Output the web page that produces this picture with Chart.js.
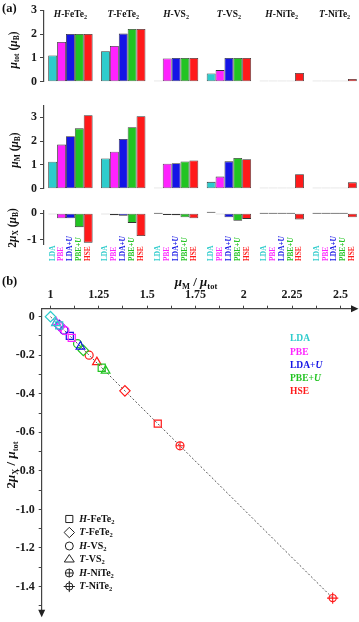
<!DOCTYPE html>
<html>
<head>
<meta charset="utf-8">
<script src="https://cdn.jsdelivr.net/npm/chart.js"></script>
<style>
  html, body { margin: 0; padding: 0; background: #fff; }
  body { width: 359px; height: 622px; position: relative; overflow: hidden; }
  canvas { position: absolute; left: 0; }
</style>
</head>
<body>
<canvas id="totChart" width="361" height="92" style="top:0px"></canvas>
<canvas id="mChart" width="361" height="104" style="top:95px"></canvas>
<canvas id="xChart" width="361" height="70" style="top:200px"></canvas>
<canvas id="ratioChart" width="359" height="352" style="top:270px"></canvas>
<script>
// *..* = italic, [..] = subscript
const materials = ["*H*-FeTe[2]", "*T*-FeTe[2]", "*H*-VS[2]", "*T*-VS[2]", "*H*-NiTe[2]", "*T*-NiTe[2]"];
const methods = ["LDA", "PBE", "LDA+*U*", "PBE+*U*", "HSE"];

// rows = methods, columns = materials
const muTot = [
  [1.1, 1.28, 0, 0.35, 0, 0],
  [1.67, 1.5, 0.98, 0.49, 0, 0],
  [2.0, 2.02, 1.0, 1.0, 0, 0],
  [2.0, 2.21, 1.0, 1.0, 0, 0],
  [2.0, 2.21, 1.0, 1.0, 0.37, 0.12],
];
const muM = [
  [1.13, 1.27, 0, 0.29, 0, 0],
  [1.85, 1.55, 1.05, 0.51, 0, 0],
  [2.2, 2.09, 1.07, 1.15, 0, 0],
  [2.53, 2.58, 1.14, 1.29, 0, 0],
  [3.08, 3.04, 1.19, 1.24, 0.61, 0.27],
];
const mu2X = [
  [-0.03, -0.02, 0, 0.06, 0, 0],
  [-0.19, -0.07, -0.06, -0.03, 0, 0],
  [-0.19, -0.09, -0.07, -0.15, 0, 0],
  [-0.52, -0.36, -0.15, -0.28, 0, 0],
  [-1.1, -0.85, -0.19, -0.21, -0.23, -0.15],
];

// panel (b): mu_M / mu_tot and 2mu_X / mu_tot
const ratioM = [
  [1.045, 1.0, null, 1.028, null, null],
  [1.11, 1.05, 1.075, 1.03, null, null],
  [1.1, 1.045, 1.07, 1.155, null, null],
  [1.265, 1.17, 1.14, 1.285, null, null],
  [1.555, 1.385, 1.2, 1.24, 1.67, 2.46],
];
const ratioX = [
  [-0.045, 0.0, null, -0.034, null, null],
  [-0.11, -0.05, -0.072, -0.03, null, null],
  [-0.1, -0.045, -0.07, -0.155, null, null],
  [-0.265, -0.175, -0.14, -0.28, null, null],
  [-0.555, -0.385, -0.2, -0.236, -0.67, -1.46],
];
const guideX = [1, 2.46];
const guideY = [0, -1.46];

const methodColors = ["#2ecccc", "#ff22ff", "#1414e6", "#22c422", "#ff1a1a"];
const shapeStyles = ["rect", "rectRot", "circle", "triangle", "circle", "circle"];
const shapeSizes = [5, 5.2, 4, 5, 4, 3.6];
const crossSizes = [0, 0, 0, 0, 4, 5.6];
const serif = "'Liberation Serif', 'Times New Roman', serif";
const axisColor = "#444";
const tickColor = "#1a1a1a";

function parts(str) {
  const out = [];
  const re = /\*([^*]+)\*|\[([^\]]+)\]|([^*\[]+)/g;
  let m;
  while ((m = re.exec(str))) {
    if (m[1]) out.push({ t: m[1], i: true });
    else if (m[2]) out.push({ t: m[2], sub: true });
    else out.push({ t: m[3] });
  }
  return out;
}

function plain(str) {
  return str.replace(/[*\[\]]/g, "");
}

function fontFor(p, size) {
  const s = p.sub ? size * 0.65 : size;
  return (p.i ? "italic " : "") + "bold " + s + "px " + serif;
}

function drawRich(ctx, str, x, y, size, color, align, angle) {
  const ps = parts(str);
  ctx.save();
  ctx.translate(x, y);
  if (angle) ctx.rotate(angle);
  ctx.fillStyle = color;
  ctx.textBaseline = "middle";
  ctx.textAlign = "left";
  let w = 0;
  ps.forEach((p) => {
    ctx.font = fontFor(p, size);
    w += ctx.measureText(p.t).width;
  });
  let cx = align === "center" ? -w / 2 : align === "right" ? -w : 0;
  ps.forEach((p) => {
    ctx.font = fontFor(p, size);
    ctx.fillText(p.t, cx, p.sub ? size * 0.3 : 0);
    cx += ctx.measureText(p.t).width;
  });
  ctx.restore();
}

function barChart(id, values, min, max, padTop, padBottom, decorate) {
  return new Chart(document.getElementById(id), {
    type: "bar",
    data: {
      labels: materials.map(plain),
      datasets: methods.map((m, i) => ({
        label: plain(m),
        data: values[i],
        backgroundColor: methodColors[i],
        borderColor: "#333",
        borderWidth: 0.8,
        borderSkipped: false,
        minBarLength: 1,
        categoryPercentage: 0.84,
        barPercentage: 1.0,
      })),
    },
    options: {
      responsive: false,
      animation: false,
      devicePixelRatio: 1,
      layout: { padding: { top: padTop, bottom: padBottom, left: 0, right: 0 } },
      plugins: { legend: { display: false }, tooltip: { enabled: false } },
      scales: {
        x: { display: false },
        y: {
          min: min,
          max: max,
          ticks: {
            stepSize: 1,
            includeBounds: false,
            color: tickColor,
            padding: 3,
            font: { family: serif, weight: "bold", size: 12 },
          },
          grid: { drawOnChartArea: false, tickLength: 4, color: axisColor },
          border: { color: axisColor, width: 1.2 },
          afterFit: (s) => {
            s.width = 44;
          },
        },
      },
    },
    plugins: [{ id: "decor" + id, afterDraw: decorate }],
  });
}

barChart("totChart", muTot, 0, 3, 10, 2.7, (chart) => {
  const ctx = chart.ctx;
  drawRich(ctx, "(a)", 2, 9, 12.5, "#111", "left");
  materials.forEach((m, i) => {
    drawRich(ctx, m, chart.scales.x.getPixelForValue(i), 15, 9.5, "#111", "center");
  });
  drawRich(ctx, "*μ*[tot] (*μ*[B])", 14, 50, 11.5, "#111", "center", -Math.PI / 2);
});

barChart("mChart", muM, 0, 3.5, 7.7, 3, (chart) => {
  drawRich(chart.ctx, "*μ*[M] (*μ*[B])", 15, 55, 11.5, "#111", "center", -Math.PI / 2);
});

barChart("xChart", mu2X, -1.15, 0.1, 10.6, 26, (chart) => {
  const ctx = chart.ctx;
  drawRich(ctx, "2*μ*[X] (*μ*[B])", 13, 28, 11.5, "#111", "center", -Math.PI / 2);
  methods.forEach((m, d) => {
    chart.getDatasetMeta(d).data.forEach((bar) => {
      drawRich(ctx, m, bar.x, 61, 7.3, methodColors[d], "left", -Math.PI / 2);
    });
  });
});

// scatter datasets, one per method
const scatterSets = methods.map((m, d) => {
  const pts = [], styles = [], radii = [];
  ratioM[d].forEach((v, k) => {
    if (v === null) return;
    pts.push({ x: v, y: ratioX[d][k] });
    styles.push(shapeStyles[k]);
    radii.push(shapeSizes[k]);
  });
  return {
    label: plain(m),
    data: pts,
    pointStyle: styles,
    pointRadius: radii,
    pointBorderColor: methodColors[d],
    pointBackgroundColor: "rgba(0,0,0,0)",
    pointBorderWidth: 1.2,
    order: 1,
  };
});
const crossSets = methods.map((m, d) => {
  const pts = [], radii = [];
  ratioM[d].forEach((v, k) => {
    if (v === null || !crossSizes[k]) return;
    pts.push({ x: v, y: ratioX[d][k] });
    radii.push(crossSizes[k]);
  });
  return {
    label: plain(m) + " cross",
    data: pts,
    pointStyle: "cross",
    pointRadius: radii,
    pointBorderColor: methodColors[d],
    pointBorderWidth: 1.1,
    order: 0,
  };
}).filter((s) => s.data.length);

function drawShape(ctx, style, x, y, r) {
  ctx.beginPath();
  if (style === "rect") {
    const s = r * Math.SQRT1_2;
    ctx.rect(x - s, y - s, 2 * s, 2 * s);
  } else if (style === "rectRot") {
    ctx.moveTo(x, y - r);
    ctx.lineTo(x + r, y);
    ctx.lineTo(x, y + r);
    ctx.lineTo(x - r, y);
    ctx.closePath();
  } else if (style === "circle") {
    ctx.arc(x, y, r, 0, Math.PI * 2);
  } else if (style === "triangle") {
    const h = r * 1.5;
    ctx.moveTo(x, y - r);
    ctx.lineTo(x + r * 0.866 * 1.15, y + h - r);
    ctx.lineTo(x - r * 0.866 * 1.15, y + h - r);
    ctx.closePath();
  } else if (style === "cross") {
    ctx.moveTo(x - r, y);
    ctx.lineTo(x + r, y);
    ctx.moveTo(x, y - r);
    ctx.lineTo(x, y + r);
  }
  ctx.stroke();
}

new Chart(document.getElementById("ratioChart"), {
  type: "scatter",
  data: {
    datasets: [
      {
        type: "line",
        label: "guide",
        data: guideX.map((x, i) => ({ x: x, y: guideY[i] })),
        borderColor: "#555",
        borderWidth: 1,
        borderDash: [2, 2],
        pointRadius: 0,
        fill: false,
        order: 5,
      },
      ...scatterSets,
      ...crossSets,
    ],
  },
  options: {
    responsive: false,
    animation: false,
    devicePixelRatio: 1,
    layout: { padding: { top: 14.7, bottom: 10, left: 0, right: 7 } },
    plugins: { legend: { display: false }, tooltip: { enabled: false } },
    scales: {
      x: {
        type: "linear",
        position: "top",
        min: 0.9545,
        max: 2.56,
        ticks: {
          stepSize: 0.125,
          includeBounds: false,
          autoSkip: false,
          maxRotation: 0,
          padding: 4,
          color: tickColor,
          font: { family: serif, weight: "bold", size: 12 },
          callback: (v) => (Math.abs(v * 4 - Math.round(v * 4)) < 1e-6 ? String(+v.toFixed(2)) : ""),
        },
        grid: { drawOnChartArea: false, tickLength: 3, color: axisColor },
        border: { color: axisColor, width: 1.2 },
        afterFit: (s) => {
          s.height = 24;
        },
      },
      y: {
        type: "linear",
        min: -1.526,
        max: 0.0413,
        ticks: {
          stepSize: 0.1,
          includeBounds: false,
          autoSkip: false,
          padding: 4,
          color: tickColor,
          font: { family: serif, weight: "bold", size: 12 },
          callback: (v) => {
            const t = Math.round(v * 10);
            if (t % 2 !== 0) return "";
            return t === 0 ? "0" : (t / 10).toFixed(1);
          },
        },
        grid: { drawOnChartArea: false, tickLength: 3, color: axisColor },
        border: { color: axisColor, width: 1.2 },
        afterFit: (s) => {
          s.width = 41.7;
        },
      },
    },
  },
  plugins: [
    {
      id: "ratioDecor",
      afterDraw: (chart) => {
        const ctx = chart.ctx;
        const a = chart.chartArea;
        drawRich(ctx, "(b)", 2, 11.5, 12.5, "#111", "left");
        drawRich(ctx, "*μ*[M] / *μ*[tot]", 196, 12.7, 13, "#111", "center");
        drawRich(ctx, "2*μ*[X] / *μ*[tot]", 12, 195, 13, "#111", "center", -Math.PI / 2);

        // arrows on axes
        ctx.save();
        ctx.fillStyle = "#222";
        ctx.beginPath();
        ctx.moveTo(a.right - 1, a.top - 3.5);
        ctx.lineTo(a.right + 6.5, a.top);
        ctx.lineTo(a.right - 1, a.top + 3.5);
        ctx.closePath();
        ctx.fill();
        ctx.beginPath();
        ctx.moveTo(a.left - 3.5, a.bottom - 1);
        ctx.lineTo(a.left, a.bottom + 6.5);
        ctx.lineTo(a.left + 3.5, a.bottom - 1);
        ctx.closePath();
        ctx.fill();
        ctx.restore();

        // method colour legend
        methods.forEach((m, i) => {
          drawRich(ctx, m, 290, 69 + i * 13.2, 9.5, methodColors[i], "left");
        });

        // material shape legend
        ctx.save();
        ctx.strokeStyle = "#222";
        ctx.lineWidth = 1;
        materials.forEach((m, i) => {
          const y = 249 + i * 13.5;
          drawShape(ctx, shapeStyles[i], 69.3, y, shapeSizes[i]);
          if (crossSizes[i]) drawShape(ctx, "cross", 69.3, y, crossSizes[i]);
          drawRich(ctx, m, 79.3, y, 10, "#111", "left");
        });
        ctx.restore();
      },
    },
  ],
});
</script>
</body>
</html>
